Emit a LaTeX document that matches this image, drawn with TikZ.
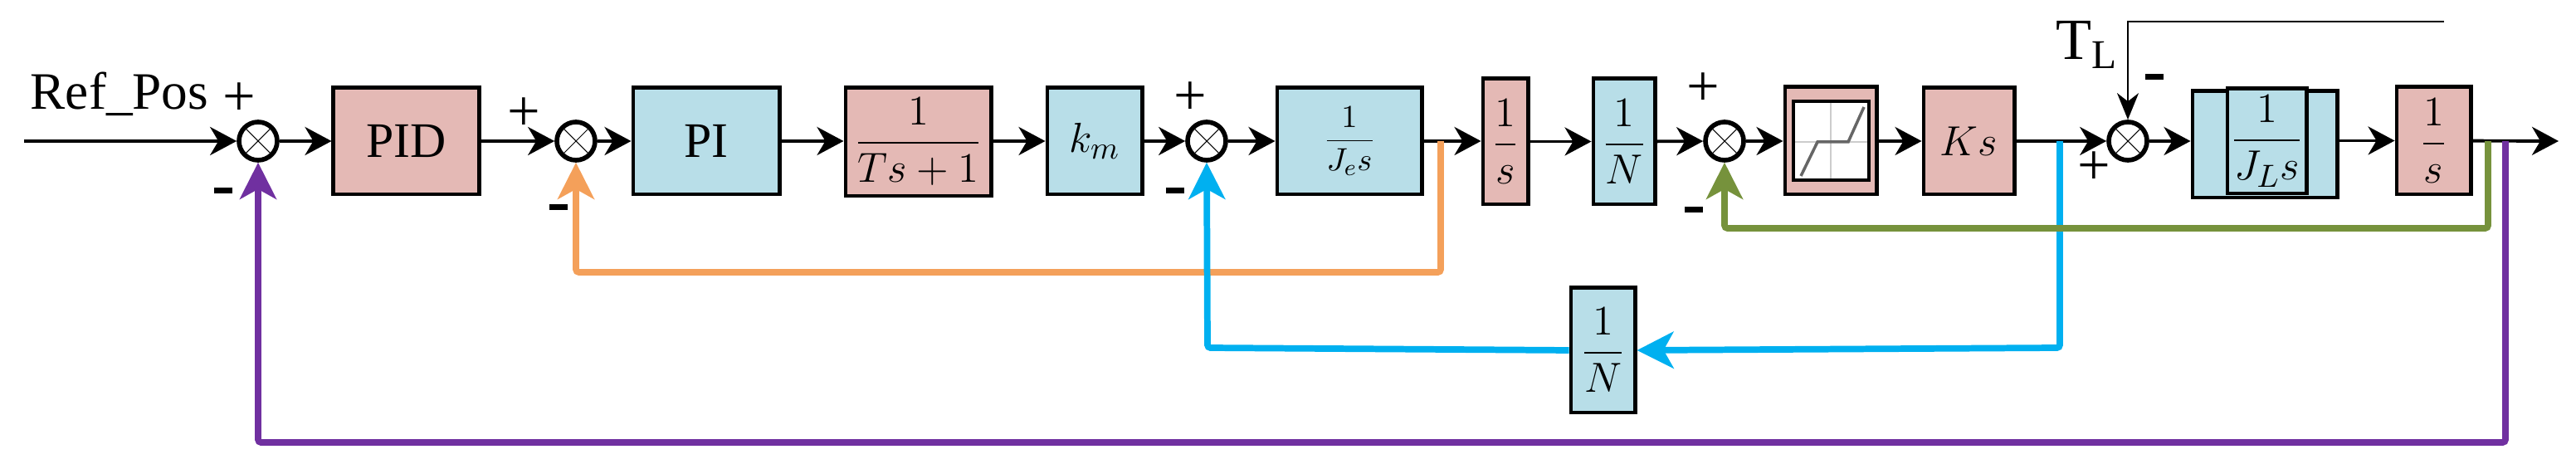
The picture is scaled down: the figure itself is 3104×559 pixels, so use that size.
\documentclass[tikz,border=0pt]{standalone}
\usepackage{amsmath}
\usepackage{fontspec}
\setmainfont{Liberation Serif}
\usetikzlibrary{arrows.meta, positioning}

\definecolor{boxpink}{RGB}{228,185,181}
\definecolor{boxblue}{RGB}{184,222,232}
\definecolor{fborange}{RGB}{244,160,90}
\definecolor{fbblue}{RGB}{0,176,240}
\definecolor{fbgreen}{RGB}{118,146,60}
\definecolor{fbpurple}{RGB}{112,48,160}

\tikzset{
  blk/.style={draw, line width=1.4pt, inner sep=0pt, font=\fontsize{15}{18}\selectfont},
  pink/.style={blk, fill=boxpink},
  cyan/.style={blk, fill=boxblue},
  sum/.style={draw, circle, line width=1.6pt, minimum size=0.46cm, inner sep=0pt, fill=white,
    path picture={\draw[line width=0.3pt] (path picture bounding box.north west) -- (path picture bounding box.south east)
      (path picture bounding box.north east) -- (path picture bounding box.south west);}},
  sig/.style={line width=1.1pt, -{Stealth[length=0.32cm,width=0.34cm,inset=0.1cm]}},
  fb/.style={line width=2.2pt, rounded corners=1pt, -{Stealth[length=0.44cm,width=0.44cm,inset=0.12cm]}},
  sgn/.style={font=\fontsize{20}{20}\selectfont, inner sep=0pt},
  minus/.style={fill=black, minimum width=0.22cm, minimum height=0.07cm, inner sep=0pt}
}

\begin{document}
\begin{tikzpicture}[x=0.01cm, y=-0.01cm]
\useasboundingbox (0,0) rectangle (3104,559);

% forward path
\coordinate (in) at (29,170);
\node[sum] (s1) at (311,170) {};
\node[pink, minimum width=1.75cm, minimum height=1.28cm, font=\fontsize{17}{20}\selectfont] (pid) at (489.5,170) {PID};
\node[sum] (s2) at (694,170) {};
\node[cyan, minimum width=1.76cm, minimum height=1.28cm, font=\fontsize{17}{20}\selectfont] (pi) at (851,170) {PI};
\node[pink, minimum width=1.75cm, minimum height=1.30cm] (tf) at (1106.5,171) {$\dfrac{1}{Ts+1}$};
\node[cyan, minimum width=1.14cm, minimum height=1.28cm] (km) at (1319,170) {$k_m$};
\node[sum] (s3) at (1454,170) {};
\node[cyan, minimum width=1.74cm, minimum height=1.28cm] (jes) at (1626,170) {\fontsize{11}{12}\selectfont$\dfrac{1}{J_e s}$};
\node[pink, minimum width=0.54cm, minimum height=1.51cm] (int1) at (1814,170.5) {$\dfrac{1}{s}$};
\node[cyan, minimum width=0.74cm, minimum height=1.51cm] (n1) at (1957,170.5) {$\dfrac{1}{N}$};
\node[sum] (s4) at (2078,170) {};
\node[pink, minimum width=1.10cm, minimum height=1.29cm] (sat) at (2206,169.5) {};
\node[pink, minimum width=1.09cm, minimum height=1.28cm] (ks) at (2372.5,170) {$Ks$};
\node[sum] (s5) at (2564,170) {};
\node[cyan, minimum width=1.74cm, minimum height=1.28cm] (jlo) at (2729,174) {};
\node[cyan, minimum width=0.95cm, minimum height=1.26cm] (jl) at (2731.5,170) {$\dfrac{1}{J_L s}$};
\node[pink, minimum width=0.89cm, minimum height=1.29cm] (int2) at (2932.5,169.5) {$\dfrac{1}{s}$};
\coordinate (out) at (3083,170);

% saturation icon
\draw[line width=1pt, fill=white] (2161,122) rectangle (2252,217);
\draw[gray!40, line width=0.8pt] (2206,124) -- (2206,215) (2163,171) -- (2250,171);
\draw[gray!80!black, line width=1pt] (2170,212) -- (2190,171) -- (2227,171) -- (2246,129);

% feedback block
\node[cyan, minimum width=0.77cm, minimum height=1.50cm] (n2) at (1931.5,422) {$\dfrac{1}{N}$};

% taps
\coordinate (tapo) at (1736,170);
\coordinate (tapb) at (2482,170);
\coordinate (tapg) at (2998,170);
\coordinate (tapp) at (3019,170);
\coordinate (tl) at (2945,26);

\draw[sig] (in) -- (s1);
\draw[sig] (s1) -- (pid);
\draw[sig] (pid) -- (s2);
\draw[sig] (s2) -- (pi);
\draw[sig] (pi) -- (tf.west |- pi);
\draw[sig] (tf.east |- km) -- (km);
\draw[sig] (km) -- (s3);
\draw[sig] (s3) -- (jes);
\draw[sig] (jes) -- (int1.west |- jes);
\draw[sig] (int1.east |- n1) -- (n1);
\draw[sig] (n1) -- (s4);
\draw[sig] (s4) -- (sat.west |- s4);
\draw[sig] (sat.east |- ks) -- (ks);
\draw[sig] (ks) -- (s5);
\draw[sig] (s5) -- (jlo.west |- s5);
\draw[sig] (jlo.east |- int2) -- (int2);
\draw[sig] (int2) -- (out);
\draw[line width=0.6pt, -{Stealth[length=0.32cm,width=0.26cm,inset=0.1cm]}] (tl) -- (tl -| s5) -- (s5);

\draw[fb, fborange] (tapo) -- (1736,328) -- (694,328) -- (s2.south);
\draw[fb, fbblue] (tapb) -- (2482,419) -- (n2.east);
\draw[fb, fbblue] (n2.west) -- (1455,419) -- (s3.south);
\draw[fb, fbgreen] (tapg) -- (2998,275) -- (2078,275) -- (s4.south);
\draw[fb, fbpurple] (tapp) -- (3019,533) -- (311,533) -- (s1.south);

% labels
\node[anchor=base west, font=\fontsize{18}{22}\selectfont, inner sep=0pt] (ref) at (36,132) {Ref\_Pos};
\node[sgn] (p1) at (288,120) {+};
\node[minus] (m1) at (269,230) {};
\node[sgn] (p2) at (631,138) {+};
\node[minus] (m2) at (673,250) {};
\node[sgn] (p3) at (1434,119) {+};
\node[minus] (m3) at (1416,230) {};
\node[sgn] (p4) at (2052,108) {+};
\node[minus] (m4) at (2041,253) {};
\node[font=\fontsize{20}{24}\selectfont, inner sep=0pt] (tlab) at (2515,54) {T\textsubscript{L}};
\node[minus] (m5) at (2596,93) {};
\node[sgn] (p5) at (2523,203) {+};
\end{tikzpicture}
\end{document}
